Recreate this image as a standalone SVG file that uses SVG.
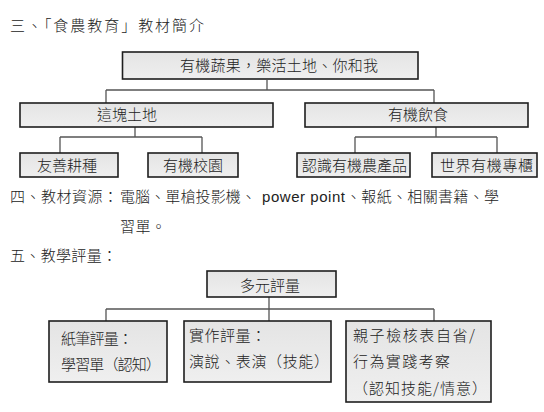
<svg xmlns="http://www.w3.org/2000/svg" width="544" height="412" viewBox="0 0 544 412">
<defs>
<linearGradient id="g" x1="0" y1="0" x2="0" y2="1">
<stop offset="0" stop-color="#e4e4e4"/>
<stop offset="1" stop-color="#efefef"/>
</linearGradient>
</defs>
<style>
text{font-family:"Noto Sans CJK TC","Noto Sans CJK SC",sans-serif;font-size:15px;font-weight:300;fill:#222}
.lat{font-family:"Liberation Sans",Arial,sans-serif;font-weight:400}
.box{fill:url(#g);stroke:#1e1e1e;stroke-width:1.6}
.con{fill:none;stroke:#555;stroke-width:1.3}
</style>
<rect width="544" height="412" fill="#fff"/>
<text x="10" y="31" textLength="194" lengthAdjust="spacing">三、「食農教育」教材簡介</text>
<g id="connectors">
<path class="con" d="M267 80V90M106 90H434M106 90V103M434 90V103"/>
<path class="con" d="M135 127V137M60 137H202M60 137V153M202 137V153"/>
<path class="con" d="M436 127V137M355 137H497M355 137V153M497 137V153"/>
<path class="con" d="M269 297V322M106 309H434M106 309V321M434 309V321"/>
</g>
<g id="n-root">
<rect class="box" x="122.5" y="52" width="295.5" height="27"/>
<text x="180" y="71" textLength="198" lengthAdjust="spacing">有機蔬果，樂活土地、你和我</text>
</g>
<g id="n-land">
<rect class="box" x="20" y="103" width="253" height="24"/>
<text x="97" y="120">這塊土地</text>
</g>
<g id="n-food">
<rect class="box" x="305" y="103" width="223" height="24"/>
<text x="388" y="120">有機飲食</text>
</g>
<g id="n-friendly">
<rect class="box" x="20" y="153" width="98" height="24"/>
<text x="37" y="171">友善耕種</text>
</g>
<g id="n-campus">
<rect class="box" x="148" y="153" width="90" height="24"/>
<text x="163" y="171">有機校園</text>
</g>
<g id="n-know">
<rect class="box" x="297" y="153" width="113" height="24"/>
<text x="302" y="171">認識有機農產品</text>
</g>
<g id="n-world">
<rect class="box" x="432" y="153" width="105" height="24"/>
<text x="440" y="171" textLength="93" lengthAdjust="spacing">世界有機專櫃</text>
</g>
<text x="10" y="202" textLength="108" lengthAdjust="spacing">四、教材資源：</text>
<text x="120" y="202" textLength="136" lengthAdjust="spacing">電腦、單槍投影機、</text>
<text x="262" y="202" class="lat" textLength="83" lengthAdjust="spacing">power point</text>
<text x="346" y="202" textLength="153" lengthAdjust="spacing">、報紙、相關書籍、學</text>
<text x="120" y="232" textLength="46" lengthAdjust="spacing">習單。</text>
<text x="10" y="261" textLength="107" lengthAdjust="spacing">五、教學評量：</text>
<g id="n-multi">
<rect class="box" x="207" y="271" width="129" height="26"/>
<text x="240" y="291">多元評量</text>
</g>
<g id="n-paper">
<rect class="box" x="49" y="321" width="118" height="61"/>
<text x="61" y="344" textLength="72" lengthAdjust="spacing">紙筆評量：</text>
<text x="61" y="370" textLength="100" lengthAdjust="spacing">學習單（認知）</text>
</g>
<g id="n-practice">
<rect class="box" x="184" y="321" width="147" height="61"/>
<text x="189" y="341" textLength="77" lengthAdjust="spacing">實作評量：</text>
<text x="189" y="367" textLength="140" lengthAdjust="spacing">演說、表演（技能）</text>
</g>
<g id="n-parent">
<rect class="box" x="346" y="321" width="145" height="81"/>
<text x="353" y="341" textLength="122" lengthAdjust="spacing">親子檢核表自省/</text>
<text x="353" y="367" textLength="97" lengthAdjust="spacing">行為實踐考察</text>
<text x="353" y="394" textLength="134" lengthAdjust="spacing">（認知技能/情意）</text>
</g>
</svg>
